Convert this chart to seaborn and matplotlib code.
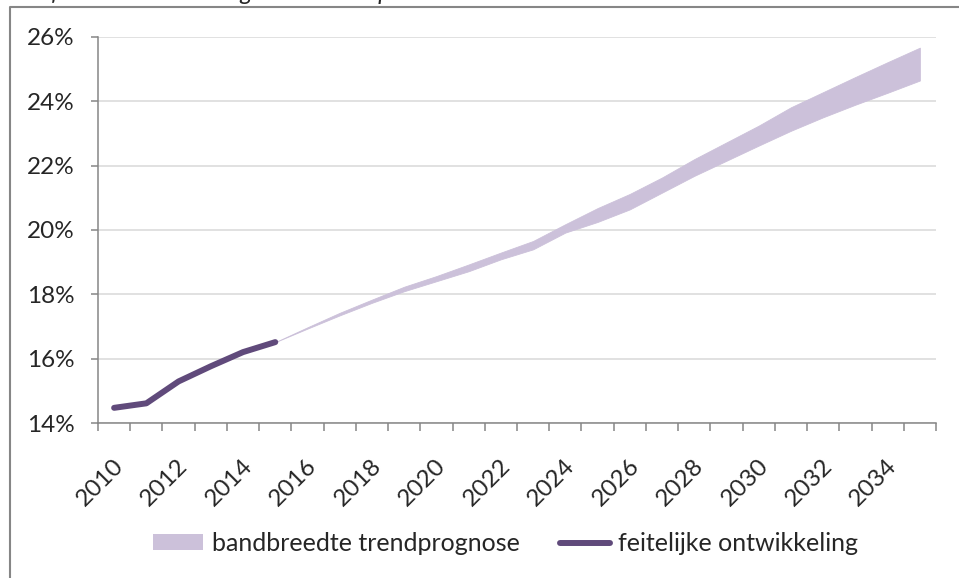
import numpy as np
import matplotlib
matplotlib.use("Agg")
import matplotlib.pyplot as plt
from matplotlib.lines import Line2D
from matplotlib.patches import Patch
from matplotlib.ticker import FixedLocator, FuncFormatter
from matplotlib.transforms import ScaledTranslation
import pandas as pd
import seaborn as sns

# ── data ─────────────────────────────────────────────────────────────────────
actual_years = [2010, 2011, 2012, 2013, 2014, 2015]
actual_share = [14.48, 14.62, 15.30, 15.77, 16.21, 16.52]

band_years = list(range(2015, 2036))
band_upper = [16.52, 16.98, 17.43, 17.84, 18.24, 18.57, 18.93, 19.30, 19.66, 20.18,
              20.68, 21.12, 21.63, 22.20, 22.72, 23.24, 23.81, 24.28, 24.75, 25.21, 25.66]
band_lower = [16.52, 16.94, 17.35, 17.74, 18.10, 18.41, 18.72, 19.09, 19.40, 19.92,
              20.25, 20.64, 21.16, 21.68, 22.15, 22.62, 23.08, 23.50, 23.89, 24.26, 24.64]

year_labels = list(range(2010, 2035, 2))
y_ticks = [14, 16, 18, 20, 22, 24, 26]

BAND_COL = "#ccc1da"
LINE_COL = "#604a7b"
GRID_COL = "#d9d9d9"
AXIS_COL = "#868686"
FS = 17.5
FS_LEG = 18

sns.set_style("white")
plt.rcParams["font.family"] = ["Lato", "DejaVu Sans"]

W, H = 959, 578
fig = plt.figure(figsize=(W / 100, H / 100), dpi=100)
ax = fig.add_axes([98 / W, 1 - 423.3 / H, (936 - 98) / W, (423.3 - 36.7) / H])

# ── band + actual line ───────────────────────────────────────────────────────
ax.fill_between(band_years, band_lower, band_upper, color=BAND_COL, lw=0.6,
                edgecolor=BAND_COL, zorder=2)
df = pd.DataFrame({"jaar": actual_years, "aandeel": actual_share})
sns.lineplot(data=df, x="jaar", y="aandeel", color=LINE_COL, lw=4.3,
             solid_capstyle="round", ax=ax, zorder=3)

# ── axes ─────────────────────────────────────────────────────────────────────
ax.set_xlim(2009.5, 2035.5)
ax.set_ylim(14, 26)
ax.set_xlabel("")
ax.set_ylabel("")

ax.set_yticks(y_ticks)
ax.yaxis.set_major_formatter(FuncFormatter(lambda v, _: f"{v:.0f}%"))
ax.yaxis.grid(True, color=GRID_COL, lw=1.1)
ax.xaxis.grid(False)
ax.set_axisbelow(True)

ax.xaxis.set_major_locator(FixedLocator(year_labels))
ax.xaxis.set_minor_locator(FixedLocator(np.arange(2009.5, 2036, 1)))
ax.set_xticklabels([str(y) for y in year_labels], rotation=45, ha="right",
                   va="center", rotation_mode="anchor")
ax.tick_params(axis="x", which="major", length=0, pad=28, labelsize=FS)
ax.tick_params(axis="x", which="minor", length=6, width=1.1, color=AXIS_COL,
               direction="out", bottom=True)
ax.tick_params(axis="y", length=5, width=1.1, color=AXIS_COL, direction="out",
               left=True, pad=12, labelsize=FS)
shift = ScaledTranslation(6 / 100, 0, fig.dpi_scale_trans)
for lbl in ax.get_xticklabels():
    lbl.set_transform(lbl.get_transform() + shift)

for side in ["top", "right"]:
    ax.spines[side].set_visible(False)
for side in ["left", "bottom"]:
    ax.spines[side].set_color(AXIS_COL)
    ax.spines[side].set_linewidth(1.1)

# ── legend ───────────────────────────────────────────────────────────────────
handles = [Patch(facecolor=BAND_COL, edgecolor="none"),
           Line2D([], [], color=LINE_COL, lw=4.3, solid_capstyle="round")]
fig.legend(handles, ["bandbreedte trendprognose", "feitelijke ontwikkeling"],
           loc="center left", bbox_to_anchor=(153 / W, 1 - 543.5 / H), ncol=2,
           frameon=False, fontsize=FS_LEG, handlelength=2.0, handleheight=0.6,
           handletextpad=0.35, columnspacing=1.6, borderpad=0, borderaxespad=0)

# ── outer chart frame (cropped: only top and left edges visible) ─────────────
fig.add_artist(Line2D([10 / W, 10 / W, 1], [0, 1 - 7 / H, 1 - 7 / H],
                      transform=fig.transFigure, color=AXIS_COL, lw=1.5))
fig.text(14 / W, 1.0, "Grafiek 1: Ontwikkeling aandeel 65-plussers in Nederland",
         fontsize=FS, style="italic", va="baseline", ha="left")

fig.savefig("out.png", dpi=100)
